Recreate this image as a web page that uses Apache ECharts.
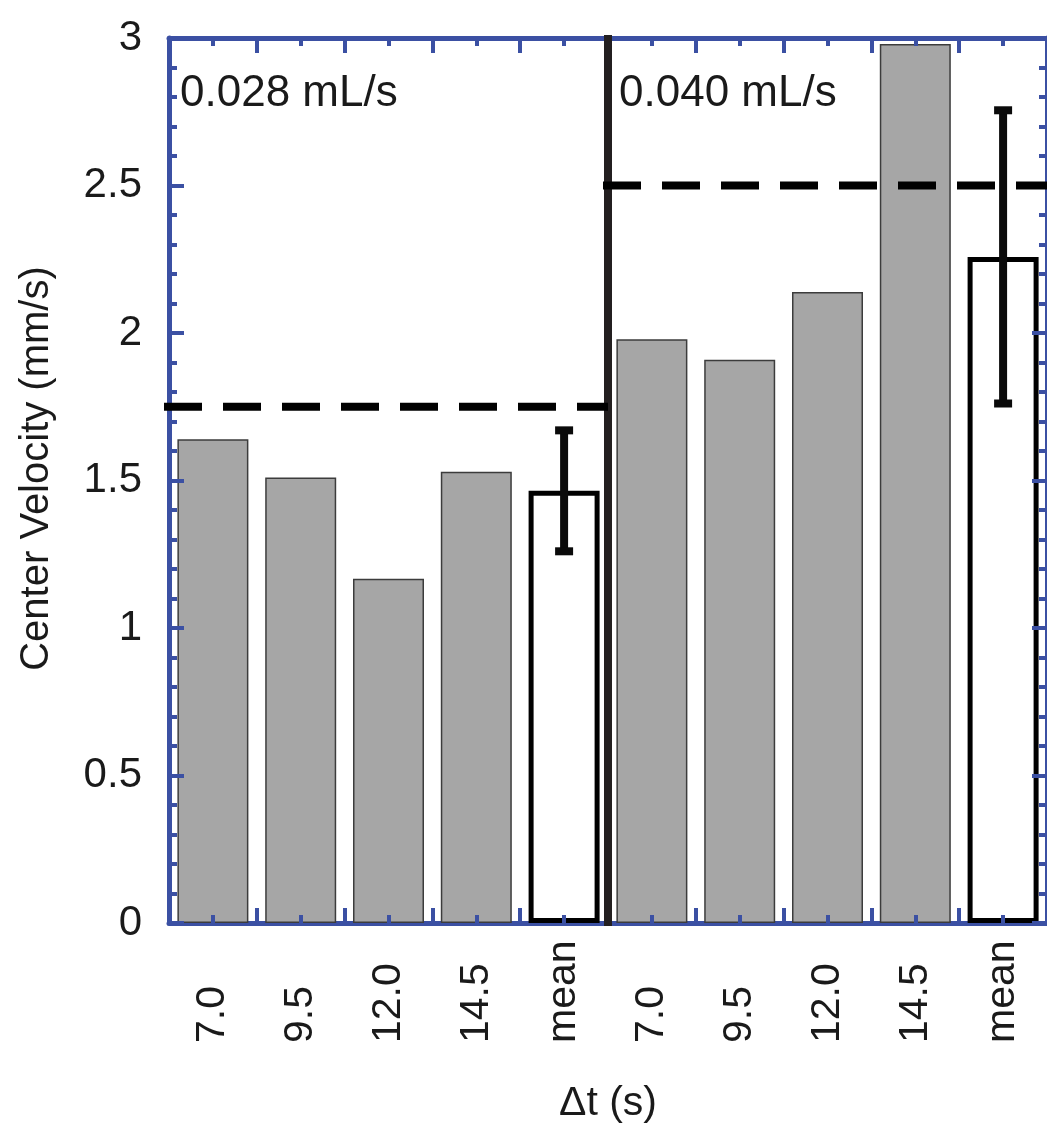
<!DOCTYPE html>
<html>
<head>
<meta charset="utf-8">
<title>Center Velocity</title>
<script src="https://cdn.jsdelivr.net/npm/echarts@6/dist/echarts.min.js"></script>
<style>
  html, body { margin: 0; padding: 0; background: #fff; }
  #chart { width: 1047px; height: 1130px; }
</style>
</head>
<body>
<div id="chart"></div>
<script>
// values
const dtLabels = ['7.0', '9.5', '12.0', '14.5']
const flowLabels = ['0.028 mL/s', '0.040 mL/s']
const runs028 = [1.64, 1.51, 1.167, 1.53]
const runs040 = [1.979, 1.909, 2.139, 2.98]
const meanValues = [1.465, 2.258]
const meanErrors = [0.205, 0.497]
const predicted = [1.75, 2.5]
const yTicks = [0, 0.5, 1, 1.5, 2, 2.5, 3]

const FONT = '"Liberation Sans", Arial, Helvetica, sans-serif'
const BLUE = '#3b50a3'
const INK = '#1a1a1a'
const groupSize = dtLabels.length + 1

const categories = []
const barData = []
const errData = []
const refData = []
const groupStart = []
;[runs028, runs040].forEach((runs, g) => {
  runs.forEach((v, i) => {
    categories.push(dtLabels[i])
    barData.push(v)
  })
  categories.push('mean')
  barData.push({
    value: meanValues[g],
    itemStyle: { color: '#fff', borderColor: '#000', borderWidth: 5 }
  })
  errData.push([g * groupSize + runs.length, meanValues[g], meanErrors[g]])
  refData.push([g * groupSize, (g + 1) * groupSize, predicted[g]])
  groupStart.push([g * groupSize])
})

const frameAxis = (pos, extra) => Object.assign({
  type: 'value',
  position: pos,
  min: 0,
  max: categories.length,
  interval: 1,
  z: 5,
  axisLine: { show: true, onZero: false, lineStyle: { color: BLUE, width: 5 } },
  axisTick: { show: true, inside: true, length: 15, lineStyle: { color: BLUE, width: 4 } },
  minorTick: { show: true, inside: true, splitNumber: 2, length: 8, lineStyle: { color: BLUE, width: 4 } },
  axisLabel: { show: false },
  splitLine: { show: false },
  minorSplitLine: { show: false }
}, extra || {})

const chart = echarts.init(document.getElementById('chart'))

chart.setOption({
  animation: false,
  backgroundColor: '#fff',
  // the right frame edge sits just past the picture edge
  grid: { left: 169, top: 38, width: 884, height: 885 },
  xAxis: [
    {
      type: 'category',
      data: categories,
      position: 'bottom',
      axisLine: { show: false },
      axisTick: { show: false },
      axisLabel: {
        rotate: 90,
        align: 'left',
        verticalAlign: 'middle',
        margin: 120,
        fontSize: 41,
        fontFamily: FONT,
        color: INK,
        interval: 0
      },
      name: 'Δt (s)',
      nameLocation: 'middle',
      nameGap: 160,
      nameTextStyle: { fontSize: 41, fontFamily: FONT, color: INK, verticalAlign: 'top' }
    },
    // bottom frame line sits under the bars, ticks are drawn over them
    frameAxis('bottom', { z: 0, axisTick: { show: false }, minorTick: { show: false } }),
    frameAxis('top'),
    frameAxis('bottom', { axisLine: { show: false } })
  ],
  yAxis: [
    {
      type: 'value',
      position: 'left',
      min: yTicks[0],
      max: yTicks[yTicks.length - 1],
      interval: yTicks[1] - yTicks[0],
      z: 5,
      axisLine: { show: true, onZero: false, lineStyle: { color: BLUE, width: 5 } },
      axisTick: { show: true, inside: true, length: 15, lineStyle: { color: BLUE, width: 4 } },
      minorTick: { show: true, splitNumber: 5, length: 8, lineStyle: { color: BLUE, width: 4 } },
      splitLine: { show: false },
      axisLabel: {
        margin: 27,
        fontSize: 42,
        fontFamily: FONT,
        color: INK,
        formatter: v => String(v)
      },
      name: 'Center Velocity (mm/s)',
      nameLocation: 'middle',
      nameGap: 112,
      nameTextStyle: { fontSize: 40, fontFamily: FONT, color: INK, padding: [0, 0, 0, 24] }
    },
    {
      type: 'value',
      position: 'right',
      min: yTicks[0],
      max: yTicks[yTicks.length - 1],
      interval: yTicks[1] - yTicks[0],
      z: 5,
      axisLine: { show: true, onZero: false, lineStyle: { color: BLUE, width: 5 } },
      axisTick: { show: true, inside: true, length: 15, lineStyle: { color: BLUE, width: 4 } },
      minorTick: { show: true, splitNumber: 5, length: 8, lineStyle: { color: BLUE, width: 4 } },
      splitLine: { show: false },
      axisLabel: { show: false }
    }
  ],
  series: [
    {
      name: 'runs',
      type: 'bar',
      xAxisIndex: 0,
      yAxisIndex: 0,
      barWidth: 71,
      z: 2,
      itemStyle: { color: '#a6a6a6', borderColor: '#3c3c3c', borderWidth: 1.5 },
      data: barData
    },
    {
      name: 'predicted',
      type: 'custom',
      xAxisIndex: 1,
      yAxisIndex: 0,
      z: 7,
      data: refData,
      renderItem: (params, api) => {
        const a = api.coord([api.value(0), api.value(2)])
        const b = api.coord([api.value(1), api.value(2)])
        return {
          type: 'line',
          shape: { x1: a[0] - 5, y1: a[1], x2: b[0], y2: b[1] },
          style: { stroke: '#000', lineWidth: 8, lineDash: [38, 21] }
        }
      }
    },
    {
      name: 'separator',
      type: 'custom',
      xAxisIndex: 1,
      yAxisIndex: 0,
      z: 6,
      data: groupStart.slice(1),
      renderItem: (params, api) => {
        const top = api.coord([api.value(0), yTicks[yTicks.length - 1]])
        const bottom = api.coord([api.value(0), yTicks[0]])
        return {
          type: 'line',
          shape: { x1: top[0], y1: top[1] - 3, x2: bottom[0], y2: bottom[1] + 3 },
          style: { stroke: '#231f20', lineWidth: 8 }
        }
      }
    },
    {
      name: 'error',
      type: 'custom',
      xAxisIndex: 0,
      yAxisIndex: 0,
      z: 4,
      data: errData,
      renderItem: (params, api) => {
        const x = api.value(0)
        const hi = api.coord([x, api.value(1) + api.value(2)])
        const lo = api.coord([x, api.value(1) - api.value(2)])
        const half = 9
        const style = { stroke: '#0a0a0a', lineWidth: 8 }
        return {
          type: 'group',
          children: [
            { type: 'line', shape: { x1: hi[0], y1: hi[1], x2: lo[0], y2: lo[1] }, style },
            { type: 'line', shape: { x1: hi[0] - half, y1: hi[1], x2: hi[0] + half, y2: hi[1] }, style },
            { type: 'line', shape: { x1: lo[0] - half, y1: lo[1], x2: lo[0] + half, y2: lo[1] }, style }
          ]
        }
      }
    },
    {
      name: 'flow',
      type: 'custom',
      xAxisIndex: 1,
      yAxisIndex: 0,
      z: 6,
      data: groupStart,
      renderItem: (params, api) => {
        const p = api.coord([api.value(0), yTicks[yTicks.length - 1]])
        return {
          type: 'text',
          style: {
            x: p[0] + 11,
            y: p[1] + 56,
            text: flowLabels[params.dataIndex],
            fontSize: 44,
            fontFamily: FONT,
            fill: INK,
            align: 'left',
            verticalAlign: 'middle'
          }
        }
      }
    }
  ]
})
</script>
</body>
</html>
